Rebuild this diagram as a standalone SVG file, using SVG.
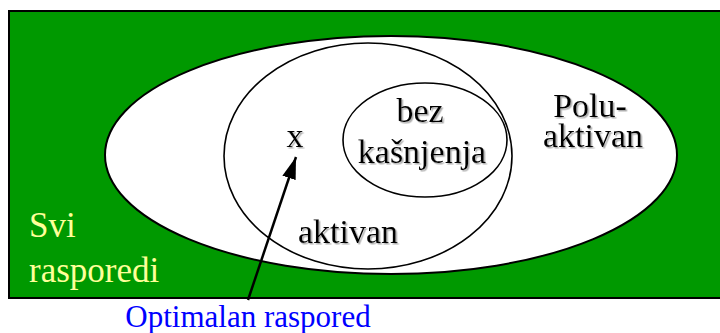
<svg xmlns="http://www.w3.org/2000/svg" width="720" height="333" viewBox="0 0 720 333">
<style>
  .set { fill: #ffffff; stroke: #000000; }
  .lbl { font-family: "Liberation Serif", "Times New Roman", serif; font-size: 34px; fill: #000000; text-anchor: middle; }
  .sh { filter: url(#shadow); }
  .svi { font-family: "Liberation Serif", "Times New Roman", serif; font-size: 35px; fill: #FFFF99; }
</style>
<defs>
  <filter id="shadow" x="-10%" y="-10%" width="130%" height="140%">
    <feDropShadow dx="1.5" dy="1.5" stdDeviation="0.6" flood-color="#999999" flood-opacity="0.8"/>
  </filter>
  <marker id="head" viewBox="0 0 22 14" refX="22" refY="7" markerWidth="22" markerHeight="14" markerUnits="userSpaceOnUse" orient="auto">
    <path d="M0,0 L22,7 L0,14 z" fill="#000"/>
  </marker>
</defs>

<g id="svi-rasporedi">
  <rect x="9" y="11" width="712" height="287" fill="#009900" stroke="#000" stroke-width="2"/>
  <text class="svi" x="29" y="237">Svi</text>
  <text class="svi" x="29" y="282">rasporedi</text>
</g>

<g id="polu-aktivan">
  <ellipse class="set" cx="391" cy="155" rx="286" ry="119" stroke-width="2"/>
  <text class="lbl sh" x="590" y="117">Polu-</text>
  <text class="lbl sh" x="593" y="147">aktivan</text>
</g>

<g id="aktivan">
  <ellipse class="set" cx="368" cy="156" rx="144" ry="113" stroke-width="1.6"/>
  <text class="lbl sh" x="348" y="243">aktivan</text>
</g>

<g id="bez-kasnjenja">
  <ellipse class="set" cx="425" cy="140" rx="82" ry="57" stroke-width="1.6"/>
  <text class="lbl sh" x="420" y="122">bez</text>
  <text class="lbl sh" x="422" y="163">kašnjenja</text>
</g>

<g id="optimum">
  <text class="lbl sh" x="295" y="147" font-size="32">x</text>
</g>

<g id="optimalan-label">
  <text x="248" y="327" font-family="Liberation Serif, Times New Roman, serif" font-size="31" fill="#0000FF" text-anchor="middle">Optimalan raspored</text>
</g>

<g id="connectors">
  <line x1="248" y1="300" x2="296" y2="157" stroke="#000" stroke-width="2.5" marker-end="url(#head)"/>
</g>
</svg>
